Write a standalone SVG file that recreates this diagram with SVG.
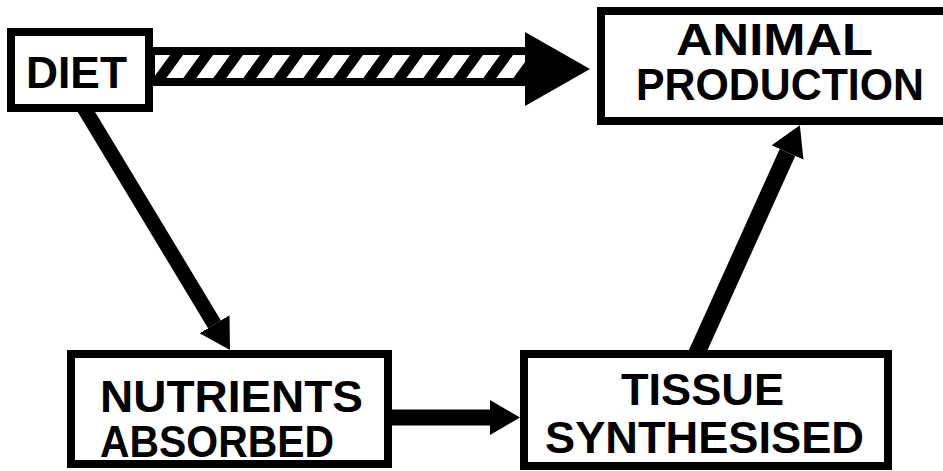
<svg xmlns="http://www.w3.org/2000/svg" width="943" height="471" viewBox="0 0 943 471">
  <style>
    .box { fill: #fff; stroke: #000; stroke-width: 8; }
    .lbl { font-family: "Liberation Sans", Arial, Helvetica, sans-serif; font-weight: bold; font-size: 44px; fill: #000; }
    .conn { stroke: #000; fill: none; }
  </style>
  <defs>
    <marker id="head" markerUnits="userSpaceOnUse" markerWidth="30" markerHeight="35" viewBox="0 0 30 35" refX="0" refY="17.5" orient="auto">
      <path d="M0,0 L30,17.5 L0,35 Z" fill="#000"/>
    </marker>
    <pattern id="hatch" patternUnits="userSpaceOnUse" width="30" height="40" patternTransform="skewX(-36)">
      <rect x="0" y="0" width="30" height="40" fill="#fff"/>
      <rect x="0" y="0" width="13" height="40" fill="#000"/>
    </pattern>
  </defs>
  <rect width="943" height="471" fill="#fff"/>

  <g id="connectors">
    <g id="diet-to-production">
      <rect x="150" y="47" width="378" height="39" fill="#000"/>
      <rect x="155" y="55" width="370" height="23" fill="url(#hatch)"/>
      <polygon points="525,32 590,69 525,106" fill="#000"/>
    </g>
    <line class="conn" x1="84" y1="108" x2="214.5" y2="324.3" stroke-width="15" marker-end="url(#head)"/>
    <line class="conn" x1="390" y1="417.5" x2="490" y2="417.5" stroke-width="16" marker-end="url(#head)"/>
    <line class="conn" x1="696" y1="355" x2="787.5" y2="152.5" stroke-width="17" marker-end="url(#head)"/>
  </g>

  <g id="node-diet">
    <rect class="box" x="11" y="32" width="138" height="76"/>
    <text class="lbl" x="26" y="88" font-size="42" textLength="101" lengthAdjust="spacingAndGlyphs">DIET</text>
  </g>

  <g id="node-animal-production">
    <rect class="box" x="601" y="11" width="360" height="110"/>
    <text class="lbl" x="676" y="55" font-size="45" textLength="197" lengthAdjust="spacingAndGlyphs">ANIMAL</text>
    <text class="lbl" x="636" y="100" font-size="45" textLength="288" lengthAdjust="spacingAndGlyphs">PRODUCTION</text>
  </g>

  <g id="node-nutrients-absorbed">
    <rect class="box" x="71" y="354" width="317" height="110"/>
    <text class="lbl" x="100" y="412" textLength="263" lengthAdjust="spacingAndGlyphs">NUTRIENTS</text>
    <text class="lbl" x="100" y="457" textLength="234" lengthAdjust="spacingAndGlyphs">ABSORBED</text>
  </g>

  <g id="node-tissue-synthesised">
    <rect class="box" x="524" y="354" width="364" height="112"/>
    <text class="lbl" x="621" y="405" textLength="163" lengthAdjust="spacingAndGlyphs">TISSUE</text>
    <text class="lbl" x="545" y="453" textLength="319" lengthAdjust="spacingAndGlyphs">SYNTHESISED</text>
  </g>
</svg>
